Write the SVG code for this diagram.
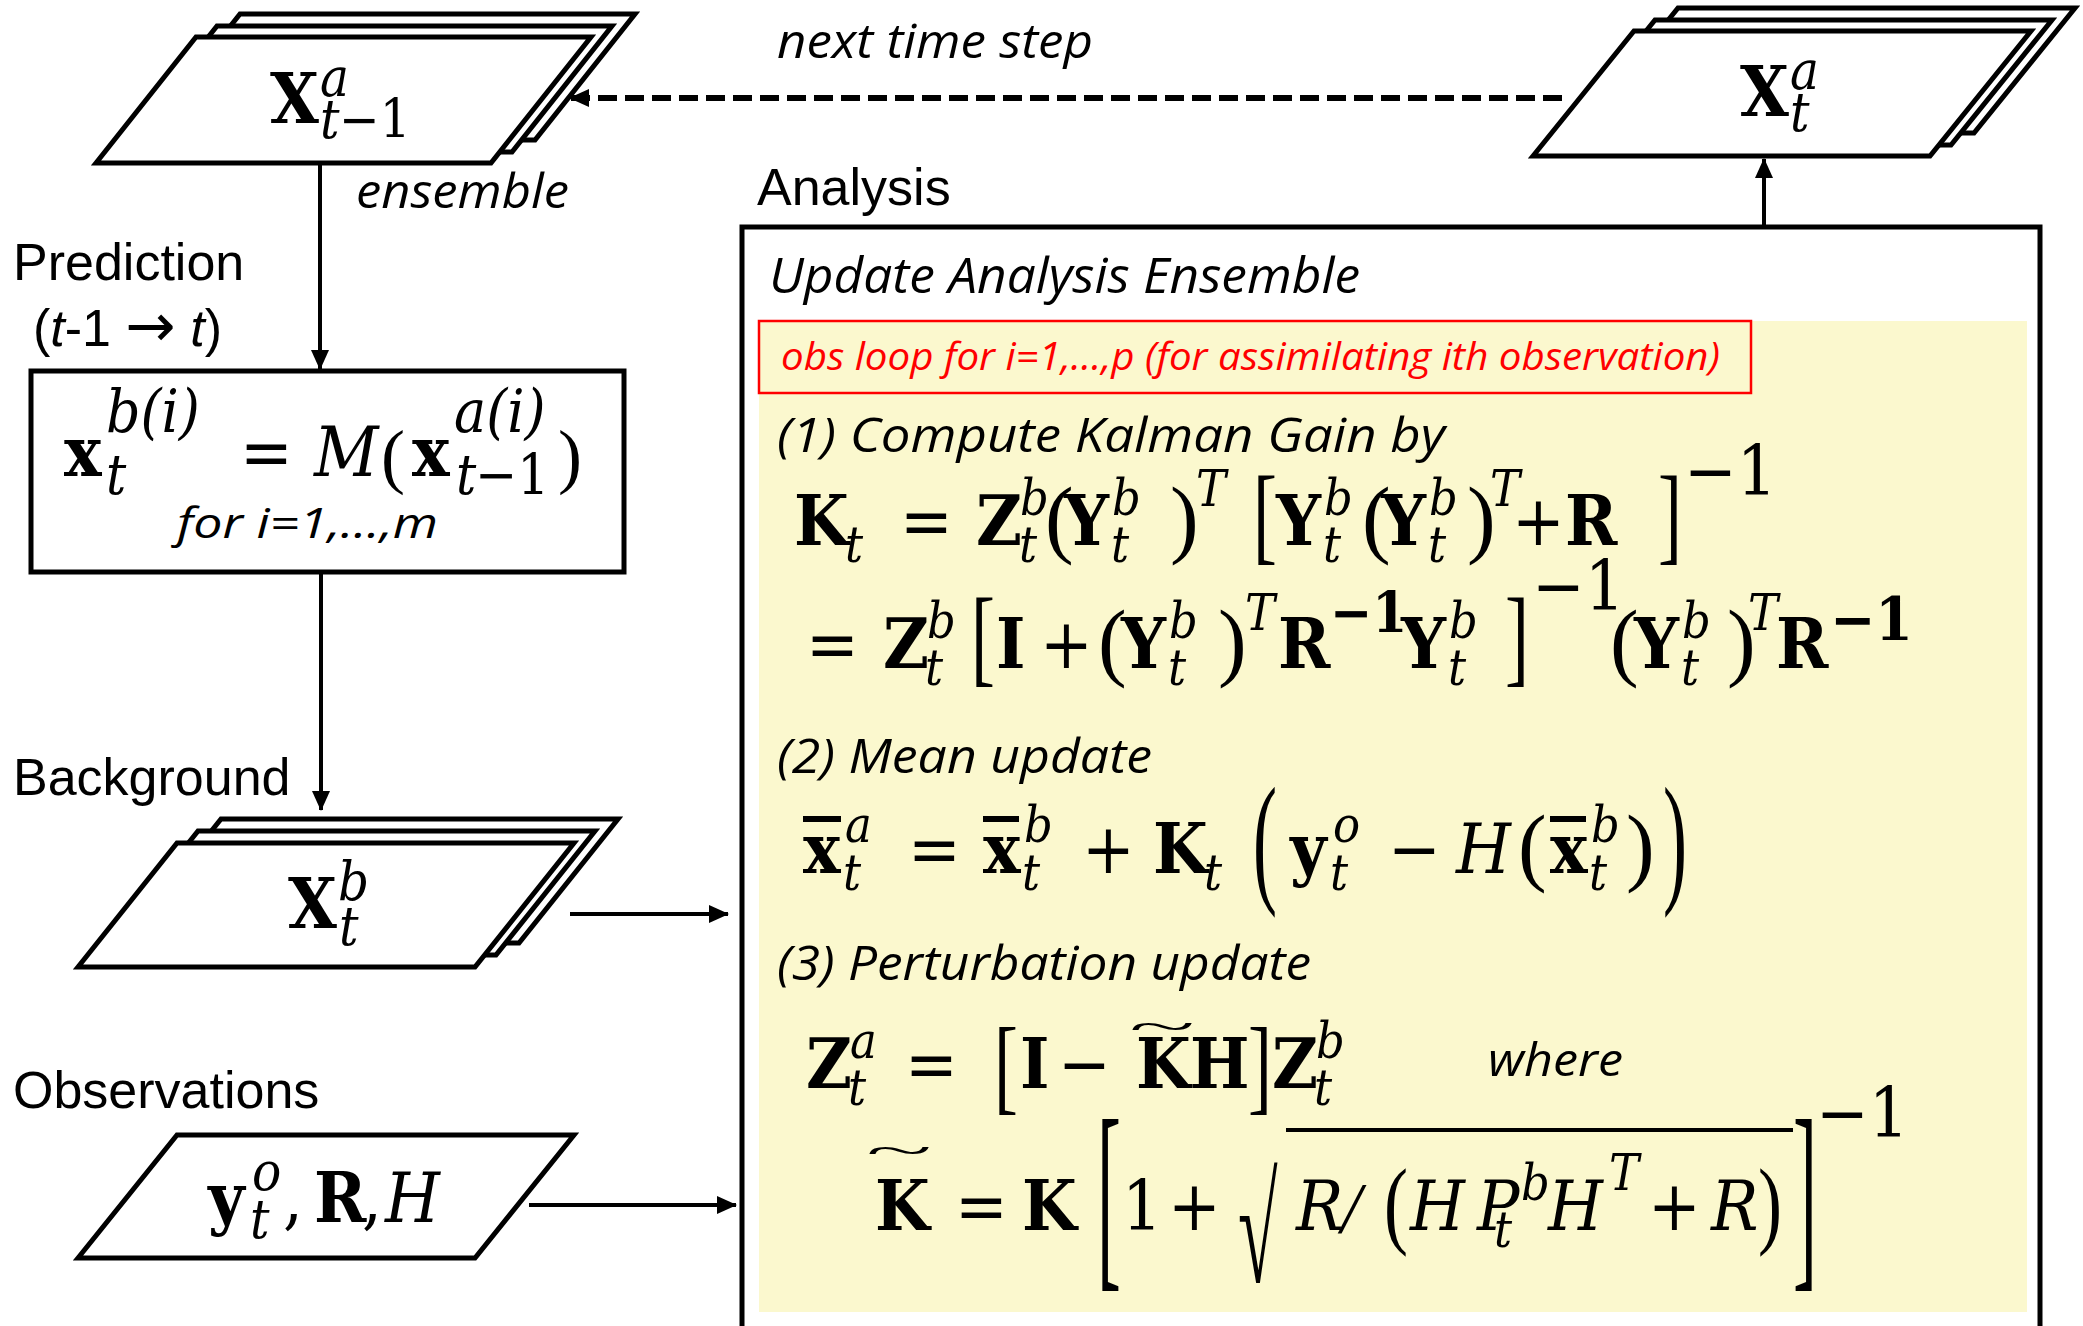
<svg xmlns="http://www.w3.org/2000/svg" width="2083" height="1326" viewBox="0 0 2083 1326">
<defs>
<style>
.sh{fill:#fff;stroke:#000;stroke-width:5;stroke-linejoin:miter}
.ln{stroke:#000;stroke-width:4;fill:none}
.lbl{font-family:"Liberation Sans",Arial,sans-serif;font-size:52px;fill:#000}
.it{font-family:"Open Sans","Noto Sans",sans-serif;font-style:italic;fill:#000}
.m{font-family:"DejaVu Serif","Liberation Serif",serif;font-stretch:condensed;fill:#000;font-size:70px}
.d{font-family:"Liberation Serif","Times New Roman",serif;fill:#000;font-size:72px}
.b{font-weight:bold}
.i{font-style:italic}
.s{font-size:50px}
.p{font-size:86px}
</style>
<marker id="ah" viewBox="0 0 20 18" markerWidth="20" markerHeight="18" refX="19" refY="9" orient="auto" markerUnits="userSpaceOnUse"><path d="M0,0L20,9L0,18z" fill="#000"/></marker>
</defs>
<rect width="2083" height="1326" fill="#fff"/>

<g id="connectors">
<line class="ln" x1="1562" y1="98" x2="570" y2="98" style="stroke-width:6" stroke-dasharray="19 8" marker-end="url(#ah)"/>
<line class="ln" x1="320" y1="165" x2="320" y2="369" marker-end="url(#ah)"/>
<line class="ln" x1="321" y1="574" x2="321" y2="810" marker-end="url(#ah)"/>
<line class="ln" x1="570" y1="914" x2="728" y2="914" marker-end="url(#ah)"/>
<line class="ln" x1="529" y1="1205" x2="736" y2="1205" marker-end="url(#ah)"/>
<line class="ln" x1="1764" y1="227" x2="1764" y2="159" marker-end="url(#ah)"/>
</g>

<g id="node-xa-prev">
<polygon class="sh" points="140,140 240,14 635,14 535,140"/>
<polygon class="sh" points="117,152 217,26 612,26 512,152"/>
<polygon class="sh" points="96,163 196,37 591,37 491,163"/>
<text class="m"><tspan class="b" x="270" y="123" font-size="70">X</tspan><tspan class="i" x="320" y="96" font-size="54">a</tspan><tspan class="i" x="320" y="138" font-size="54">t</tspan><tspan x="339" y="138" font-size="54">−1</tspan></text>
</g>

<g id="node-xa">
<polygon class="sh" points="1577,133 1678,8 2075,8 1974,133"/>
<polygon class="sh" points="1554,145 1655,20 2052,20 1951,145"/>
<polygon class="sh" points="1533,156 1634,31 2031,31 1930,156"/>
<text class="m"><tspan class="b" x="1740" y="116" font-size="70">X</tspan><tspan class="i" x="1790" y="89" font-size="54">a</tspan><tspan class="i" x="1790" y="131" font-size="54">t</tspan></text>
</g>

<g id="node-predict">
<rect class="sh" x="31" y="371" width="593" height="201"/>
<text class="m" font-size="72"><tspan class="b" x="64" y="476">x</tspan><tspan class="i" x="106" y="494" font-size="56">t</tspan><tspan class="i" x="106" y="432" font-size="60">b(i)</tspan><tspan x="240" y="476">=</tspan><tspan class="i" x="314" y="476">M</tspan></text>
<text class="d" x="381" y="480" font-size="86">(</text>
<text class="m" font-size="72"><tspan class="b" x="412" y="476">x</tspan><tspan class="i" x="454" y="432" font-size="60">a(i)</tspan><tspan class="i" x="456" y="494" font-size="56">t</tspan><tspan x="475" y="494" font-size="56">−1</tspan></text>
<text class="d" x="558" y="480" font-size="86">)</text>
<text class="it" x="177" y="538" font-size="42" textLength="261" lengthAdjust="spacingAndGlyphs">for i=1,…,m</text>
</g>

<g id="node-xb">
<polygon class="sh" points="122,943 221,819 618,819 519,943"/>
<polygon class="sh" points="99,955 198,831 595,831 496,955"/>
<polygon class="sh" points="78,967 177,843 574,843 475,967"/>
<text class="m"><tspan class="b" x="288" y="928" font-size="70">X</tspan><tspan class="i" x="338" y="900" font-size="54">b</tspan><tspan class="i" x="339" y="945" font-size="54">t</tspan></text>
</g>

<g id="node-obs">
<polygon class="sh" points="78,1258 177,1135 574,1135 475,1258"/>
<text class="m" font-size="70"><tspan class="b" x="208" y="1222">y</tspan><tspan class="i" x="252" y="1190" font-size="54">o</tspan><tspan class="i" x="250" y="1238" font-size="54">t</tspan><tspan x="283" y="1222">,</tspan><tspan class="b" x="314" y="1222">R</tspan><tspan x="362" y="1222">,</tspan><tspan class="i" x="385" y="1222">H</tspan></text>
</g>

<g id="labels">
<text class="it" x="356" y="208" font-size="48" textLength="213" lengthAdjust="spacingAndGlyphs">ensemble</text>
<text class="it" x="777" y="58" font-size="48" textLength="316" lengthAdjust="spacingAndGlyphs">next time step</text>
<text class="lbl" x="13" y="280">Prediction</text>
<text class="lbl" x="33" y="346">(<tspan font-style="italic">t</tspan>-1 <tspan font-family="DejaVu Sans" font-size="60">→</tspan> <tspan font-style="italic">t</tspan>)</text>
<text class="lbl" x="13" y="795">Background</text>
<text class="lbl" x="13" y="1108">Observations</text>
<text class="lbl" x="757" y="205">Analysis</text>
</g>

<g id="node-analysis">
<rect class="sh" x="742" y="227" width="1298" height="1200"/>
<rect x="759" y="321" width="1268" height="991" fill="#FBF8CE"/>
<rect x="759" y="321" width="992" height="72" fill="none" stroke="#FF0000" stroke-width="2.5"/>
<text class="it" x="769" y="293" font-size="50" textLength="591" lengthAdjust="spacingAndGlyphs">Update Analysis Ensemble</text>
<text class="it" x="781" y="370" font-size="38" fill="#FF0000" style="fill:#FF0000" textLength="939" lengthAdjust="spacingAndGlyphs">obs loop for i=1,…,p (for assimilating ith observation)</text>
<text class="it" x="777" y="452" font-size="48" textLength="668" lengthAdjust="spacingAndGlyphs">(1) Compute Kalman Gain by</text>
<text class="it" x="777" y="773" font-size="48" textLength="375" lengthAdjust="spacingAndGlyphs">(2) Mean update</text>
<text class="it" x="777" y="980" font-size="48" textLength="534" lengthAdjust="spacingAndGlyphs">(3) Perturbation update</text>
<text class="it" x="1488" y="1076" font-size="46" textLength="135" lengthAdjust="spacingAndGlyphs">where</text>

<!-- line 1 -->
<text class="m"><tspan class="b" x="794" y="545">K</tspan><tspan class="i s" x="845" y="562">t</tspan><tspan x="900" y="545">=</tspan><tspan class="b" x="976" y="545">Z</tspan><tspan class="i s" x="1020" y="515">b</tspan><tspan class="i s" x="1019" y="562">t</tspan></text>
<text class="d p" x="1045" y="547">(</text>
<text class="m"><tspan class="b" x="1064" y="545">Y</tspan><tspan class="i s" x="1112" y="515">b</tspan><tspan class="i s" x="1111" y="562">t</tspan></text>
<text class="d p" x="1170" y="547">)</text>
<text class="m i s" x="1196" y="506">T</text>
<text class="d" transform="translate(1253,551) scale(1,1.5)">[</text>
<text class="m"><tspan class="b" x="1276" y="545">Y</tspan><tspan class="i s" x="1324" y="515">b</tspan><tspan class="i s" x="1323" y="562">t</tspan></text>
<text class="d p" x="1362" y="547">(</text>
<text class="m"><tspan class="b" x="1381" y="545">Y</tspan><tspan class="i s" x="1429" y="515">b</tspan><tspan class="i s" x="1428" y="562">t</tspan></text>
<text class="d p" x="1467" y="547">)</text>
<text class="m"><tspan class="i s" x="1490" y="506">T</tspan><tspan x="1512" y="545">+</tspan><tspan class="b" x="1565" y="545">R</tspan></text>
<text class="d" transform="translate(1658,551) scale(1,1.5)">]</text>
<text class="m" x="1684" y="495" font-size="54">−1</text>

<!-- line 2 -->
<text class="m"><tspan x="806" y="668">=</tspan><tspan class="b" x="883" y="668">Z</tspan><tspan class="i s" x="927" y="638">b</tspan><tspan class="i s" x="925" y="685">t</tspan></text>
<text class="d" transform="translate(971,673) scale(1,1.5)">[</text>
<text class="m"><tspan class="b" x="996" y="668">I</tspan><tspan x="1040" y="668">+</tspan></text>
<text class="d p" x="1098" y="670">(</text>
<text class="m"><tspan class="b" x="1121" y="668">Y</tspan><tspan class="i s" x="1169" y="638">b</tspan><tspan class="i s" x="1168" y="685">t</tspan></text>
<text class="d p" x="1218" y="670">)</text>
<text class="m"><tspan class="i s" x="1245" y="630">T</tspan><tspan class="b" x="1278" y="668">R</tspan><tspan class="b" x="1330" y="632" font-size="56">−1</tspan><tspan class="b" x="1401" y="668">Y</tspan><tspan class="i s" x="1449" y="638">b</tspan><tspan class="i s" x="1448" y="685">t</tspan></text>
<text class="d" transform="translate(1505,673) scale(1,1.5)">]</text>
<text class="m" x="1532" y="610" font-size="54">−1</text>
<text class="d p" x="1610" y="670">(</text>
<text class="m"><tspan class="b" x="1634" y="668">Y</tspan><tspan class="i s" x="1682" y="638">b</tspan><tspan class="i s" x="1681" y="685">t</tspan></text>
<text class="d p" x="1727" y="670">)</text>
<text class="m"><tspan class="i s" x="1748" y="630">T</tspan><tspan class="b" x="1776" y="668">R</tspan><tspan class="b" x="1830" y="640" font-size="60">−1</tspan></text>

<!-- mean update -->
<rect x="803" y="816" width="38" height="6" fill="#000"/>
<rect x="983" y="816" width="36" height="6" fill="#000"/>
<rect x="1550" y="816" width="36" height="6" fill="#000"/>
<text class="m"><tspan class="b" x="803" y="873">x</tspan><tspan class="i s" x="845" y="842">a</tspan><tspan class="i s" x="843" y="890">t</tspan><tspan x="908" y="873">=</tspan><tspan class="b" x="983" y="873">x</tspan><tspan class="i s" x="1024" y="842">b</tspan><tspan class="i s" x="1022" y="890">t</tspan><tspan x="1082" y="873">+</tspan><tspan class="b" x="1153" y="873">K</tspan><tspan class="i s" x="1204" y="890">t</tspan></text>
<text class="d" transform="translate(1253,887) scale(1,2)">(</text>
<text class="m"><tspan class="b" x="1290" y="873">y</tspan><tspan class="i s" x="1333" y="842">o</tspan><tspan class="i s" x="1330" y="890">t</tspan><tspan x="1388" y="873">−</tspan><tspan class="i" x="1456" y="873">H</tspan></text>
<text class="d p" x="1518" y="875">(</text>
<text class="m"><tspan class="b" x="1550" y="873">x</tspan><tspan class="i s" x="1591" y="842">b</tspan><tspan class="i s" x="1589" y="890">t</tspan></text>
<text class="d p" x="1626" y="875">)</text>
<text class="d" transform="translate(1663,887) scale(1,2)">)</text>

<!-- perturbation update -->
<text class="m"><tspan class="b" x="806" y="1088">Z</tspan><tspan class="i s" x="850" y="1058">a</tspan><tspan class="i s" x="848" y="1105">t</tspan><tspan x="905" y="1088">=</tspan></text>
<text class="d" transform="translate(994,1101) scale(1,1.46)">[</text>
<text class="m"><tspan class="b" x="1020" y="1088">I</tspan><tspan x="1058" y="1088">−</tspan><tspan class="b" x="1136" y="1088">K</tspan><tspan class="b" x="1190" y="1088">H</tspan></text>
<text class="d" text-anchor="middle" font-size="46" transform="translate(1162,1040) scale(1.7,0.6)">~</text>
<text class="d" transform="translate(1248,1101) scale(1,1.46)">]</text>
<text class="m"><tspan class="b" x="1272" y="1088">Z</tspan><tspan class="i s" x="1316" y="1058">b</tspan><tspan class="i s" x="1314" y="1105">t</tspan></text>

<!-- K tilde -->
<text class="d" text-anchor="middle" font-size="46" transform="translate(899,1164) scale(1.7,0.6)">~</text>
<text class="m"><tspan class="b" x="875" y="1230">K</tspan><tspan x="955" y="1230">=</tspan><tspan class="b" x="1022" y="1230">K</tspan></text>
<text class="d" transform="translate(1097,1263) scale(1,2.894)">[</text>
<text class="m"><tspan x="1122" y="1230">1</tspan><tspan x="1168" y="1230">+</tspan></text>
<text class="d" transform="translate(1238,1282) scale(1,2.1)">√</text>
<rect x="1286" y="1128" width="507" height="4" fill="#000"/>
<text class="m i" x="1296" y="1230">R</text>
<text class="d i" x="1341" y="1232" font-size="84">/</text>
<text class="d" transform="translate(1384,1236) scale(1,1.35)">(</text>
<text class="m"><tspan class="i" x="1410" y="1230">H</tspan><tspan class="i" x="1477" y="1230">P</tspan><tspan class="i s" x="1521" y="1200">b</tspan><tspan class="i s" x="1494" y="1247">t</tspan><tspan class="i" x="1548" y="1230">H</tspan><tspan class="i s" x="1609" y="1190">T</tspan><tspan x="1648" y="1230">+</tspan><tspan class="i" x="1711" y="1230">R</tspan></text>
<text class="d" transform="translate(1758,1236) scale(1,1.35)">)</text>
<text class="d" transform="translate(1793,1263) scale(1,2.894)">]</text>
<text class="m" x="1816" y="1137" font-size="50">−1</text>
</g>
</svg>
